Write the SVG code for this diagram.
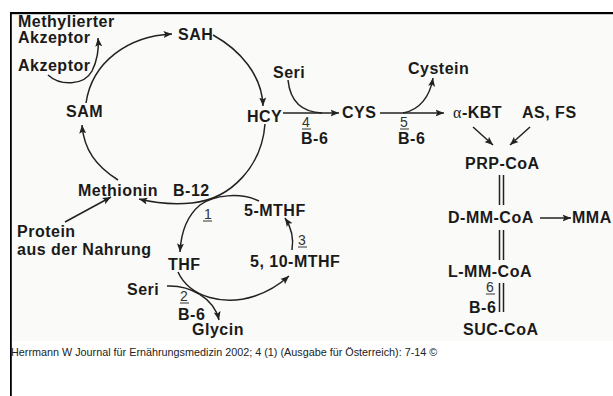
<svg xmlns="http://www.w3.org/2000/svg" width="613" height="396" viewBox="0 0 613 396">
  <style>
    .lbl { font-family: "Liberation Sans", Arial, sans-serif; font-weight: bold; font-size: 16px; letter-spacing: 0.5px; fill: #1a1a1a; }
    .num { font-family: "Liberation Sans", Arial, sans-serif; font-size: 14px; fill: #333; }
    .alpha { font-family: "Liberation Serif", "Times New Roman", serif; font-weight: normal; }
    .ul { stroke: #444; stroke-width: 1.1; }
    .con { fill: none; stroke: #222; stroke-width: 1.5; }
    .arr { fill: none; stroke: #222; stroke-width: 1.5; marker-end: url(#head); }
    .cap { font-family: "Liberation Sans", Arial, sans-serif; font-size: 10.8px; fill: #222; }
  </style>
  <defs>
    <marker id="head" markerUnits="userSpaceOnUse" markerWidth="9" markerHeight="8" refX="8.5" refY="4" orient="auto">
      <path d="M0,0.5 L8.5,4 L0,7.5 L1.8,4 z" fill="#222"/>
    </marker>
  </defs>

  <!-- page and frame -->
  <rect x="0" y="0" width="613" height="396" fill="#ffffff"/>
  <rect x="11" y="14" width="602" height="327" fill="#fafbf8"/>
  <rect x="10" y="12" width="603" height="2.2" fill="#000"/>
  <rect x="10" y="12" width="1.8" height="384" fill="#000"/>

  <!-- connectors -->
  <g id="connectors">
    <!-- methionine cycle -->
    <path class="arr" d="M86,103 C92,62 128,36 172,34"/>
    <path class="arr" d="M213,35 C240,50 262,75 263,106"/>
    <path class="arr" d="M265,124 C262,165 232,199 192,203 C170,205 155,203 139,199"/>
    <path class="arr" d="M118,180 C96,166 84,150 82,125"/>
    <!-- acceptor methylation -->
    <path class="arr" d="M48,75 C60,86 84,86 92,71 C98,59 99,49 98,38"/>
    <!-- dietary protein -->
    <path class="arr" d="M65,222 L111,197"/>
    <!-- folate cycle -->
    <path class="arr" d="M259,201 C240,192 214,195 200,205 C188,215 181,232 180,252"/>
    <path class="arr" d="M178,272 C190,298 225,306 255,296 C270,291 280,284 289,276"/>
    <path class="arr" d="M292,250 C294,238 291,227 285,218"/>
    <path class="arr" d="M167,286 C190,285 214,298 219,320"/>
    <!-- transsulfuration -->
    <path class="arr" d="M283,113 L339,113"/>
    <path class="con" d="M288,80 C290,100 300,112 322,113"/>
    <path class="arr" d="M380,113 L444,113"/>
    <path class="arr" d="M403,113 C420,110 430,96 433,78"/>
    <!-- propionyl-CoA pathway -->
    <path class="arr" d="M473,127 L493,145"/>
    <path class="arr" d="M530,127 L510,145"/>
    <path class="con" d="M499.5,175 V205 M503.5,175 V205"/>
    <path class="con" d="M499.5,230 V260 M503.5,230 V260"/>
    <path class="con" d="M499.5,283 V312 M503.5,283 V312"/>
    <path class="arr" d="M540,218 L571,218"/>
  </g>

  <!-- nodes -->
  <g id="methylierter-akzeptor"><text class="lbl" x="18" y="27">Methylierter</text><text class="lbl" x="18" y="43">Akzeptor</text></g>
  <g id="akzeptor"><text class="lbl" x="18" y="71">Akzeptor</text></g>
  <g id="sah"><text class="lbl" x="178" y="40">SAH</text></g>
  <g id="sam"><text class="lbl" x="66" y="117">SAM</text></g>
  <g id="hcy"><text class="lbl" x="247" y="122">HCY</text></g>
  <g id="seri-hcy"><text class="lbl" x="273" y="78">Seri</text></g>
  <g id="cys"><text class="lbl" x="342" y="118">CYS</text></g>
  <g id="enzyme-4"><text class="num" x="302" y="127">4</text><line class="ul" x1="302" y1="129" x2="311" y2="129"/><text class="lbl" x="301" y="144">B-6</text></g>
  <g id="enzyme-5"><text class="num" x="400" y="127">5</text><line class="ul" x1="400" y1="129" x2="409" y2="129"/><text class="lbl" x="398" y="144">B-6</text></g>
  <g id="cystein"><text class="lbl" x="408" y="74">Cystein</text></g>
  <g id="a-kbt"><text class="lbl" x="453" y="118"><tspan class="alpha">α</tspan>-KBT</text></g>
  <g id="as-fs"><text class="lbl" x="522" y="118">AS, FS</text></g>
  <g id="prp-coa"><text class="lbl" x="465" y="169">PRP-CoA</text></g>
  <g id="d-mm-coa"><text class="lbl" x="448" y="223">D-MM-CoA</text></g>
  <g id="mma"><text class="lbl" x="572" y="223">MMA</text></g>
  <g id="l-mm-coa"><text class="lbl" x="448" y="277">L-MM-CoA</text></g>
  <g id="enzyme-6"><text class="num" x="486" y="292">6</text><line class="ul" x1="486" y1="294" x2="495" y2="294"/><text class="lbl" x="469" y="313">B-6</text></g>
  <g id="suc-coa"><text class="lbl" x="463" y="335">SUC-CoA</text></g>
  <g id="methionin"><text class="lbl" x="78" y="196">Methionin</text></g>
  <g id="b-12"><text class="lbl" x="173" y="196">B-12</text></g>
  <g id="enzyme-1"><text class="num" x="204" y="219">1</text><line class="ul" x1="203" y1="221" x2="212" y2="221"/></g>
  <g id="mthf-5"><text class="lbl" x="244" y="216">5-MTHF</text></g>
  <g id="enzyme-3"><text class="num" x="298" y="245">3</text><line class="ul" x1="298" y1="247" x2="307" y2="247"/></g>
  <g id="mthf-5-10"><text class="lbl" x="250" y="267">5, 10-MTHF</text></g>
  <g id="thf"><text class="lbl" x="168" y="270">THF</text></g>
  <g id="protein"><text class="lbl" x="17" y="237">Protein</text><text class="lbl" x="17" y="255">aus der Nahrung</text></g>
  <g id="seri-thf"><text class="lbl" x="127" y="295">Seri</text></g>
  <g id="enzyme-2"><text class="num" x="180" y="301">2</text><line class="ul" x1="180" y1="303" x2="189" y2="303"/><text class="lbl" x="178" y="320">B-6</text></g>
  <g id="glycin"><text class="lbl" x="192" y="335">Glycin</text></g>

  <!-- source line -->
  <text class="cap" x="11" y="356">Herrmann W Journal für Ernährungsmedizin 2002; 4 (1) (Ausgabe für Österreich): 7-14 ©</text>
</svg>
